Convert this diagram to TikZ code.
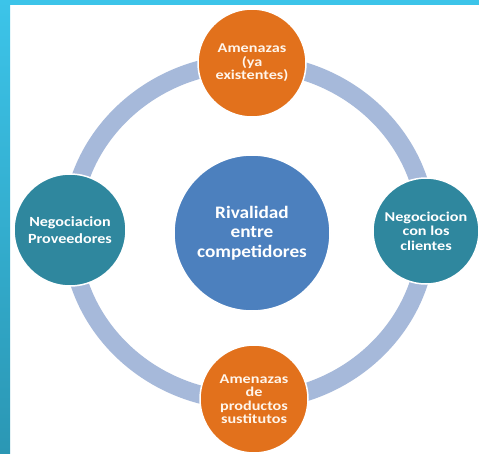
\documentclass[tikz,border=0pt]{standalone}
\usepackage{fontspec}
\setmainfont{Carlito}
\definecolor{stripetop}{HTML}{3CC4E9}
\definecolor{stripebot}{HTML}{2B97B4}
\definecolor{ringblue}{HTML}{A6B9DA}
\definecolor{threatorange}{HTML}{E2711C}
\definecolor{dealteal}{HTML}{2F879E}
\definecolor{rivalblue}{HTML}{4C80BE}
\begin{document}
\begin{tikzpicture}[x=1pt,y=-1pt,line join=round,line cap=round,font=\bfseries,
		orb/.style={circle,draw=white,line width=1.5pt,inner sep=0pt,align=center},
		threat/.style={orb,fill=threatorange,text=orange!8,minimum size=108pt,font=\bfseries\fontsize{13.5}{13.5}\selectfont\addfontfeature{FakeStretch=1.2}},
		deal/.style={orb,fill=dealteal,text=white,minimum size=112pt}]
				\useasboundingbox (0,0) rectangle (479,453);
				\fill[white] (0,0) rectangle (479,453);
				\shade[top color=stripetop,bottom color=stripebot] (0,0) rectangle (10,453);
				\fill[stripetop] (0,0) rectangle (479,5);
				% ring behind the circles
				\draw[ringblue,line width=18pt] (249,232) ellipse [x radius=178,y radius=169];
				\node[orb,fill=rivalblue,text=white,minimum size=156pt,font=\bfseries\fontsize{17.5}{19.5}\selectfont\addfontfeature{FakeStretch=1.1}] (rival) at (252,233) {Rivalidad\\entre\\competidores};
				\node[threat] (amenazas) at (252,63) {Amenazas\\(ya\\existentes)};
				\node[threat] (sustitutos) at (254,399) {Amenazas\\de\\productos\\sustitutos};
				\node[deal,font=\bfseries\fontsize{14}{17.5}\selectfont\addfontfeature{FakeStretch=1.15}] (proveedores) at (70,230) {Negociacion\\Proveedores};
				\node[deal,minimum size=106pt,font=\bfseries\fontsize{13.5}{14.5}\selectfont\addfontfeature{FakeStretch=1.2}] (clientes) at (426,231) {Negociocion\\con los\\clientes};
			\end{tikzpicture}
\end{document}
